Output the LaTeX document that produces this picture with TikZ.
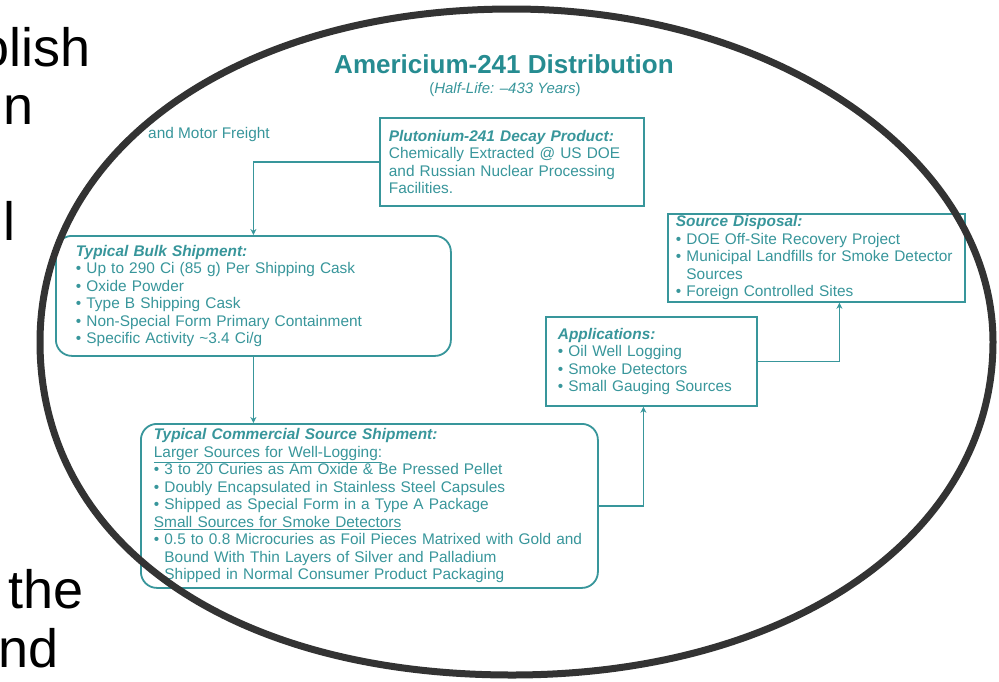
\documentclass[tikz,border=0pt]{standalone}
\usepackage{fontspec}
\setmainfont{Liberation Sans}
\usetikzlibrary{arrows.meta,positioning}

\definecolor{amteal}{RGB}{56,150,155}
\definecolor{amtitle}{RGB}{38,140,145}
\definecolor{ovalgray}{RGB}{51,51,51}

\newcommand{\bpt}{\textbullet\ }
\newcommand{\contd}{\phantom{\textbullet\ }}
\newcommand{\boxhead}[1]{\textbf{\textit{#1}}}

\begin{document}
\begin{tikzpicture}[
  x=1pt, y=-1pt,
  lbl/.style={font=\fontsize{15.4}{17.5}\selectfont, text=amteal},
  box/.style={lbl, rectangle, draw=amteal, line width=1.8pt, align=left,
              anchor=north west, inner ysep=0pt},
  roundbox/.style={box, rounded corners=16pt},
  arrow/.style={-{Stealth[length=6pt,width=6pt]}, line width=1.8pt, draw=amteal},
  slidetext/.style={font=\fontsize{54}{60}\selectfont, anchor=base west, inner sep=0pt}
]
\useasboundingbox[fill=white] (0,0) rectangle (999,681);

% text of the slide behind the oval
\node[slidetext] (s1) at (-21,66) {olish};
\node[slidetext] (s2) at (3,124) {n};
\node[slidetext] (s3) at (3,240) {l};
\node[slidetext] (s4) at (8,608) {the};
\node[slidetext] (s5) at (-2,667) {nd};

% heading
\node[font=\fontsize{26}{30}\selectfont\bfseries, text=amtitle, anchor=base, inner sep=0pt]
  (title) at (504,73) {Americium-241 Distribution};
\node[font=\fontsize{15}{17}\selectfont, text=amteal, anchor=base, inner sep=0pt]
  (halflife) at (505,93) {(\textit{Half-Life: –433 Years})};
\node[lbl, anchor=base west, inner sep=0pt] (freight) at (148,138) {and Motor Freight};

% boxes
\node[box, inner xsep=9pt, text width=246pt, minimum height=88pt] (pu) at (379,117)
  {\boxhead{Plutonium-241 Decay Product:}\\
   Chemically Extracted @ US DOE\\
   and Russian Nuclear Processing\\
   Facilities.};
\node[roundbox, inner xsep=20pt, text width=355pt, minimum height=120pt] (bulk) at (55,235)
  {\boxhead{Typical Bulk Shipment:}\\
   \bpt Up to 290 Ci (85 g) Per Shipping Cask\\
   \bpt Oxide Powder\\
   \bpt Type B Shipping Cask\\
   \bpt Non-Special Form Primary Containment\\
   \bpt Specific Activity \textasciitilde3.4 Ci/g};
\node[roundbox, inner xsep=13pt, text width=431pt, minimum height=164pt] (comm) at (140,423)
  {\boxhead{Typical Commercial Source Shipment:}\\
   \underline{Larger Sources for Well-Logging:}\\
   \bpt 3 to 20 Curies as Am Oxide \& Be Pressed Pellet\\
   \bpt Doubly Encapsulated in Stainless Steel Capsules\\
   \bpt Shipped as Special Form in a Type A Package\\
   \underline{Small Sources for Smoke Detectors}\\
   \bpt 0.5 to 0.8 Microcuries as Foil Pieces Matrixed with Gold and\\
   \contd Bound With Thin Layers of Silver and Palladium\\
   \bpt Shipped in Normal Consumer Product Packaging};
\node[box, inner xsep=12pt, text width=187pt, minimum height=89pt] (apps) at (545,316)
  {\boxhead{Applications:}\\
   \bpt Oil Well Logging\\
   \bpt Smoke Detectors\\
   \bpt Small Gauging Sources};
\node[box, inner xsep=8pt, text width=281pt, minimum height=88pt] (disp) at (667,213)
  {\boxhead{Source Disposal:}\\
   \bpt DOE Off-Site Recovery Project\\
   \bpt Municipal Landfills for Smoke Detector\\
   \contd Sources\\
   \bpt Foreign Controlled Sites};

% connectors
\draw[arrow] (pu.west) -| (bulk.north);
\draw[arrow] (bulk.south) -- (bulk.south |- comm.north);
\draw[arrow] (comm.east) -| ([xshift=-8pt]apps.south);
\draw[arrow] (apps.east) -| ([xshift=23pt]disp.south);

% the oval drawn over the slide
\draw[ovalgray, line width=7pt]
  (993,342) .. controls (993,159) and (777,9) .. (512,9)
  .. controls (238,9) and (40,149) .. (40,342)
  .. controls (40,542) and (229,675) .. (512,675)
  .. controls (791,675) and (993,535) .. cycle;
\end{tikzpicture}
\end{document}
